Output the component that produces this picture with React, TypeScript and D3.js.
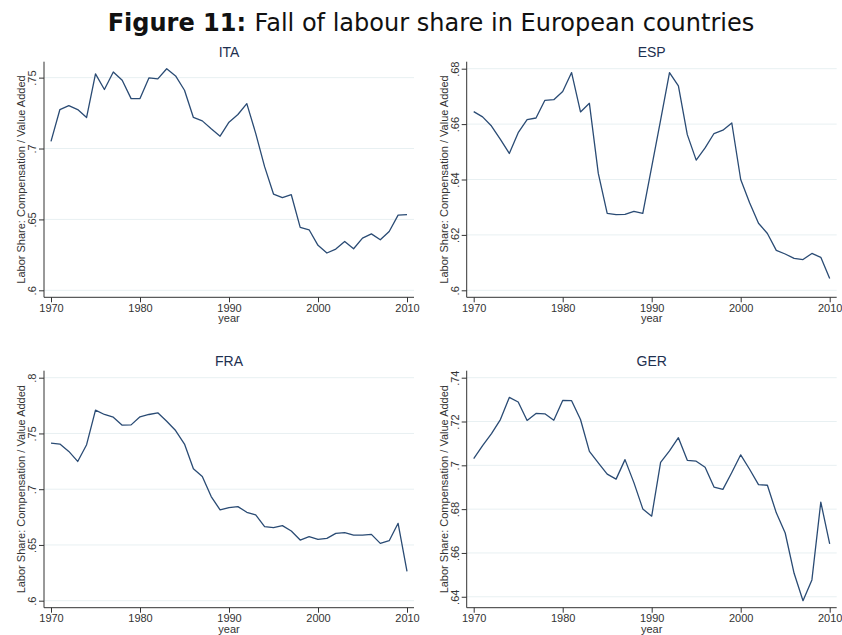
import React, {Component} from "react";
import * as d3 from "d3";

// values
const years = [1970, 1971, 1972, 1973, 1974, 1975, 1976, 1977, 1978, 1979,
    1980, 1981, 1982, 1983, 1984, 1985, 1986, 1987, 1988, 1989,
    1990, 1991, 1992, 1993, 1994, 1995, 1996, 1997, 1998, 1999,
    2000, 2001, 2002, 2003, 2004, 2005, 2006, 2007, 2008, 2009, 2010];

const ita = [.705, .7275, .7303, .7275, .7219, .7526, .7416, .754, .7481, .7352,
    .7352, .7498, .7491, .7563, .7512, .7411, .7219, .7195, .7139, .7087,
    .7186, .724, .7317, .7107, .6872, .6679, .6653, .6674, .6444, .6427,
    .6317, .6263, .6291, .6345, .6293, .6368, .6398, .6356, .6415, .653, .6534];

const esp = [.6645, .6626, .6593, .6545, .6494, .6569, .6616, .6622, .6686, .6688,
    .6718, .6786, .6644, .6675, .6422, .6278, .6273, .6274, .6285, .6278,
    .6446, .6614, .6786, .6738, .6562, .647, .6514, .6566, .6578, .6604,
    .64, .6316, .6242, .6205, .6144, .6131, .6115, .6111, .6133, .6119, .6043];

const fra = [.7414, .7405, .7339, .7249, .7399, .7709, .767, .7646, .7574, .7577,
    .7649, .767, .7685, .761, .7526, .7405, .7183, .7114, .6934, .6814,
    .6835, .6844, .6793, .6769, .6664, .6655, .6673, .6625, .6544, .6574,
    .655, .6559, .6604, .661, .6589, .6589, .6595, .6514, .6538, .6694, .6264];

const ger = [.7031, .709, .7145, .7209, .731, .7289, .7205, .7237, .7235, .7206,
    .7296, .7295, .7209, .7064, .7011, .696, .6937, .7026, .6921, .6801,
    .6768, .7013, .7066, .7126, .7023, .7019, .6991, .6901, .689, .6967,
    .7048, .6982, .6912, .6909, .6783, .6691, .6507, .6382, .6477, .6832, .6641];

const xTicks = [1970, 1980, 1990, 2000, 2010];
const itaTicks = [.6, .65, .7, .75];
const espTicks = [.6, .62, .64, .66, .68];
const fraTicks = [.6, .65, .7, .75, .8];
const gerTicks = [.64, .66, .68, .7, .72, .74];

const countries = ["ITA", "ESP", "FRA", "GER"];
const seriesList = [ita, esp, fra, ger];
const tickList = [itaTicks, espTicks, fraTicks, gerTicks];

const yTitle = "Labor Share: Compensation / Value Added";
const xTitle = "year";

class App extends Component<{}, {}> {
    componentDidMount() {
        const svg: any = d3.select("#fig11");
        svg.selectAll("*").remove();

        const tickFont = "'Liberation Sans', Arial, sans-serif";
        const lineColor = "#2a4b74";

        // frame boxes for the 4 panels: [left, right, top, bottom]
        const frames = [
            [44, 414, 61.7, 297.3],
            [466.7, 836.7, 61.7, 297.3],
            [44, 414, 370.7, 607.7],
            [466.7, 836.7, 370.7, 607.7],
        ];

        const title = svg.append("text")
            .attr("x", 431)
            .attr("y", 31)
            .attr("text-anchor", "middle")
            .attr("font-family", "'DejaVu Sans', Verdana, sans-serif")
            .attr("font-size", 21)
            .attr("fill", "#111");
        title.append("tspan").attr("font-weight", "bold").text("Figure 11: ");
        title.append("tspan").text("Fall of labour share in European countries");
        // scale the title so it spans the same width as in the figure
        const len = title.node().getComputedTextLength();
        if (len > 0) title.attr("font-size", 21 * 647 / len);

        countries.forEach((name, i) => {
            const [x0, x1, top, bottom] = frames[i];
            const values = seriesList[i];
            const ticks = tickList[i];
            const g = svg.append("g");

            const x = d3.scaleLinear()
                .domain([years[0], years[years.length - 1]])
                .range([x0 + 7, x1 - 7]);
            const lo = Math.min(d3.min(values) as number, ticks[0]);
            const hi = Math.max(d3.max(values) as number, ticks[ticks.length - 1]);
            const y = d3.scaleLinear()
                .domain([lo, hi])
                .range([bottom - 7, top + 7]);

            // gridlines
            g.append("g")
                .selectAll("line")
                .data(ticks)
                .enter()
                .append("line")
                .attr("x1", x0)
                .attr("x2", x1)
                .attr("y1", (d: number) => y(d))
                .attr("y2", (d: number) => y(d))
                .attr("stroke", "#e8f0f2")
                .attr("stroke-width", 1);

            // y axis
            const yAxis = g.append("g")
                .attr("transform", `translate(${x0},0)`)
                .call(d3.axisLeft(y).tickValues(ticks).tickSize(5).tickSizeOuter(0)
                    .tickFormat((d: any) => String(d).replace(/^0/, "")));
            yAxis.select(".domain").remove();
            yAxis.selectAll("line").attr("stroke", "#333");
            yAxis.selectAll("text")
                .attr("x", null)
                .attr("dy", null)
                .attr("text-anchor", "middle")
                .attr("transform", "translate(-8,0) rotate(-90)")
                .attr("font-family", tickFont)
                .attr("font-size", 11)
                .attr("fill", "#333");

            // x axis
            const xAxis = g.append("g")
                .attr("transform", `translate(0,${bottom})`)
                .call(d3.axisBottom(x).tickValues(xTicks).tickSize(5).tickSizeOuter(0)
                    .tickFormat((d: any) => String(d)));
            xAxis.select(".domain").remove();
            xAxis.selectAll("line").attr("stroke", "#333");
            xAxis.selectAll("text")
                .attr("y", 14.4)
                .attr("dy", null)
                .attr("font-family", tickFont)
                .attr("font-size", 11)
                .attr("fill", "#333");

            // axis lines over the full frame
            g.append("line")
                .attr("x1", x0).attr("x2", x0)
                .attr("y1", top).attr("y2", bottom)
                .attr("stroke", "#333");
            g.append("line")
                .attr("x1", x0).attr("x2", x1)
                .attr("y1", bottom).attr("y2", bottom)
                .attr("stroke", "#333");

            const line = d3.line<number>()
                .x((_d, k) => x(years[k]))
                .y((d) => y(d));
            g.append("path")
                .datum(values)
                .attr("d", line)
                .attr("fill", "none")
                .attr("stroke", lineColor)
                .attr("stroke-width", 1.3)
                .attr("stroke-linejoin", "round");

            // titles
            g.append("text")
                .attr("x", (x0 + x1) / 2)
                .attr("y", top - 4.5)
                .attr("text-anchor", "middle")
                .attr("font-family", tickFont)
                .attr("font-size", 14)
                .attr("fill", "#1e3050")
                .text(name);
            g.append("text")
                .attr("transform", `translate(${x0 - 19},${(top + bottom) / 2}) rotate(-90)`)
                .attr("text-anchor", "middle")
                .attr("font-family", tickFont)
                .attr("font-size", 11)
                .attr("fill", "#333")
                .text(yTitle);
            g.append("text")
                .attr("x", (x0 + x1) / 2)
                .attr("y", bottom + 25)
                .attr("text-anchor", "middle")
                .attr("font-family", tickFont)
                .attr("font-size", 11)
                .attr("fill", "#333")
                .text(xTitle);
        });
    }

    render() {
        return (
            <svg id="fig11" width={842} height={635}
                 style={{position: "absolute", left: 0, top: 0, display: "block", background: "#fff"}}></svg>
        );
    }
}

export default App;
